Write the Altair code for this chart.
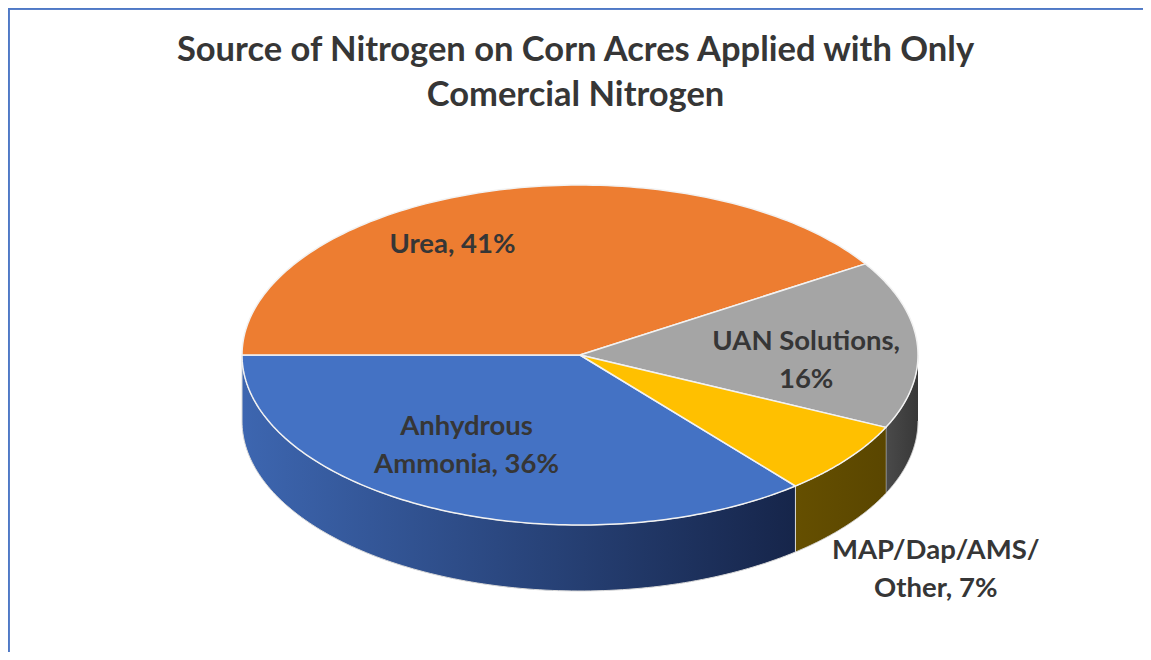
import altair as alt
import pandas as pd

# ---- data ----
categories = ["Anhydrous Ammonia", "Urea", "UAN Solutions", "MAP/Dap/AMS/Other"]
shares = [36, 41, 16, 7]
label_text = ["Anhydrous\nAmmonia, 36%", "Urea, 41%", "UAN Solutions,\n16%", "MAP/Dap/AMS/\nOther, 7%"]
title_lines = ["Source of Nitrogen on Corn Acres Applied with Only", "Comercial Nitrogen"]

# ---- styles / layout ----
top_colors = ["#4472c4", "#ed7d31", "#a5a5a5", "#ffc000"]
wall_gradients = {
    "Anhydrous Ammonia": ["#3d66b0", "#16254a"],
    "Urea": ["#9a4d16", "#6e3509"],
    "UAN Solutions": ["#4a4a4a", "#383838"],
    "MAP/Dap/AMS/Other": ["#654f00", "#5a4600"],
}
label_radius = [0.63, 0.75, 0.67, 1.37]
label_turn = [7, -14, 6.5, 2]
W, H = 1135, 644
CX, CY = 572, 347
RX, RY = 338, 170
DEPTH = 66
START = 140.4
N = 120
FONT = "Lato"
TEXT_COLOR = "#363636"
LABEL_LH = 38

df = pd.DataFrame({
    "category": categories,
    "share": shares,
    "order": list(range(len(categories))),
    "label": label_text,
    "nlines": [s.count("\n") + 1 for s in label_text],
    "lr": label_radius,
    "lt": label_turn,
})

xs = alt.Scale(domain=[0, W], nice=False, zero=False)
ys = alt.Scale(domain=[0, H], nice=False, zero=False, reverse=True)

base = alt.Chart(df).transform_window(
    cum="sum(share)", sort=[alt.SortField("order")], frame=[None, 0]
).transform_calculate(
    s_deg=f"({START} + (datum.cum - datum.share) * 3.6) % 360"
).transform_calculate(
    e_deg="datum.s_deg + datum.share * 3.6"
)

# ---- side walls (front-visible part of each slice) ----
walls = []
for cat, stops in wall_gradients.items():
    w = base.transform_filter(
        alt.datum.category == cat
    ).transform_calculate(
        lo="max(datum.s_deg, 90)", hi="min(datum.e_deg, 270)"
    ).transform_filter(
        "datum.hi > datum.lo"
    ).transform_calculate(
        k=f"sequence(0, {2 * N + 2})"
    ).transform_flatten(["k"]).transform_calculate(
        t=f"datum.k <= {N} ? datum.k / {N} : ({2 * N + 1} - datum.k) / {N}"
    ).transform_calculate(
        th="(datum.lo + (datum.hi - datum.lo) * datum.t) * PI / 180"
    ).transform_calculate(
        px=f"{CX} + {RX} * sin(datum.th)",
        py=f"{CY} - {RY} * cos(datum.th) + (datum.k > {N} ? {DEPTH} : 0)",
    ).mark_line(
        filled=True,
        fill=alt.Gradient(
            gradient="linear", x1=0, x2=1, y1=0, y2=0,
            stops=[alt.GradientStop(color=stops[0], offset=0),
                   alt.GradientStop(color=stops[1], offset=1)],
        ),
        stroke="#d9d9d9", strokeWidth=1, strokeJoin="round",
    ).encode(
        x=alt.X("px:Q", scale=xs, axis=None),
        y=alt.Y("py:Q", scale=ys, axis=None),
        order=alt.Order("k:Q"),
        detail="category:N",
    )
    walls.append(w)

# ---- top faces ----
top = base.transform_calculate(
    k=f"sequence(-1, {N + 2})"
).transform_flatten(["k"]).transform_calculate(
    th=f"(datum.s_deg + (datum.e_deg - datum.s_deg) * clamp(datum.k, 0, {N}) / {N}) * PI / 180"
).transform_calculate(
    px=f"(datum.k < 0 || datum.k > {N}) ? {CX} : {CX} + {RX} * sin(datum.th)",
    py=f"(datum.k < 0 || datum.k > {N}) ? {CY} : {CY} - {RY} * cos(datum.th)",
).mark_line(
    filled=True, stroke="#f2f2f2", strokeWidth=1.5, strokeJoin="round"
).encode(
    x=alt.X("px:Q", scale=xs, axis=None),
    y=alt.Y("py:Q", scale=ys, axis=None),
    fill=alt.Fill("category:N", scale=alt.Scale(domain=categories, range=top_colors), legend=None),
    order=alt.Order("k:Q"),
    detail="category:N",
)

# ---- labels ----
labels = base.transform_calculate(
    mid="(datum.s_deg + datum.share * 1.8 + datum.lt) * PI / 180"
).transform_calculate(
    lx=f"{CX} + {RX} * datum.lr * sin(datum.mid)",
    ly=(f"{CY} - {RY} * datum.lr * cos(datum.mid) + (datum.lr > 1 ? {DEPTH} : 0)"
        f" - (datum.nlines - 1) * {LABEL_LH} / 2"),
).mark_text(
    font=FONT, fontSize=27.5, fontWeight="bold", color=TEXT_COLOR,
    align="center", baseline="middle", lineBreak="\n", lineHeight=LABEL_LH,
).encode(
    x=alt.X("lx:Q", scale=xs, axis=None),
    y=alt.Y("ly:Q", scale=ys, axis=None),
    text="label:N",
)

# ---- frame (top and left edge of chart area) ----
frame_top = alt.Chart(df).mark_rule(color="#4f79c6", strokeWidth=1.5).encode(
    x=alt.value(0), x2=alt.value(W), y=alt.value(0.75)
)
frame_left = alt.Chart(df).mark_rule(color="#4f79c6", strokeWidth=1.5).encode(
    x=alt.value(0.75), y=alt.value(0), y2=alt.value(H)
)

chart = alt.layer(*walls, top, labels, frame_top, frame_left).properties(
    width=W, height=H, padding=0,
    autosize=alt.AutoSizeParams(type="none"),
    title=alt.TitleParams(
        text=title_lines, font=FONT, fontSize=34.5, fontWeight="bold", color=TEXT_COLOR,
        anchor="middle", frame="group", orient="top", baseline="top",
        offset=0, dy=106, lineHeight=45,
    ),
).configure_view(stroke=None)

chart.save("out.html", embed_options={"renderer": "svg", "actions": False})
